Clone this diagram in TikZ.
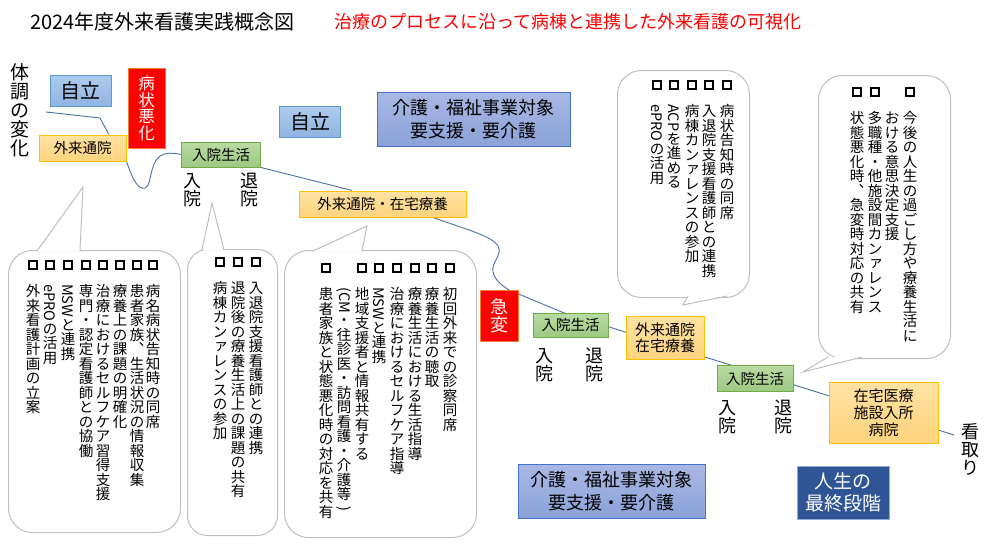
\documentclass[tikz,border=0pt]{standalone}
\usepackage{fontspec}
\setmainfont{Noto Sans CJK JP}
\usetikzlibrary{calc,backgrounds}
\definecolor{lineblue}{HTML}{4A6FAE}
\definecolor{callgray}{HTML}{BFBFBF}
\definecolor{skyA}{HTML}{AECBEE}
\definecolor{skyB}{HTML}{8FB3E0}
\definecolor{skyline}{HTML}{5B9BD5}
\definecolor{navyA}{HTML}{A9B8E4}
\definecolor{navyB}{HTML}{8AA2D8}
\definecolor{navyline}{HTML}{4472C4}
\definecolor{orgA}{HTML}{FFE2A3}
\definecolor{orgB}{HTML}{FFD37D}
\definecolor{orgline}{HTML}{FFC000}
\definecolor{grnA}{HTML}{B8DBA2}
\definecolor{grnB}{HTML}{9CC983}
\definecolor{grnline}{HTML}{70AD47}
\definecolor{alertline}{HTML}{ED7D31}
\definecolor{lastfill}{HTML}{2F5597}
\definecolor{lastline}{HTML}{8FAADC}
\newcommand{\bx}{{\setlength{\fboxsep}{0pt}\setlength{\fboxrule}{2pt}\fbox{\rule{0pt}{6pt}\rule{6pt}{0pt}}}}
\newcommand{\sw}[1]{\setbox0\hbox{\rotatebox{-90}{#1}}\dimen0=\dimexpr\ht0+\dp0\relax\ifdim\dimen0<1em\raise\dimexpr\dp0-\dimen0/2+.38em\relax\box0\else\raise\dimexpr\dp0-.12em\relax\box0\fi}
\newcommand{\sk}[1]{\raisebox{.12em}{\kern.15em#1}}
\makeatletter
\newcommand{\tatecell}[1]{\hbox to 1em{\hss\vrule height .88em depth .12em width 0pt#1\hss}}
\newcommand{\tate}[1]{\vbox{\offinterlineskip\@tfor\tate@c:=#1\do{\tatecell{\tate@c}}}}
\newcommand{\tcol}[2][\bx]{\vbox{\offinterlineskip\hbox to 1em{\hss#1\hss}\kern14pt\@tfor\tate@c:=#2\do{\tatecell{\tate@c}}}}
\makeatother
\tikzset{
  >=stealth,
  box/.style={draw, line width=1pt, inner sep=0pt, align=center},
  selfbox/.style={box, draw=skyline, top color=skyA, bottom color=skyB, font=\fontsize{20}{24}\selectfont, minimum width=61pt, minimum height=31pt},
  carebox/.style={box, draw=navyline, top color=navyA, bottom color=navyB, font=\fontsize{18}{23.5}\selectfont, minimum height=54pt},
  outbox/.style={box, draw=orgline, top color=orgA, bottom color=orgB, font=\fontsize{14.5}{16.5}\selectfont},
  wardbox/.style={box, draw=grnline, top color=grnA, bottom color=grnB, font=\fontsize{14.5}{17}\selectfont, minimum width=77pt, minimum height=25pt},
  alertbox/.style={box, draw=alertline, fill=red, text=white},
  tatelabel/.style={anchor=north, inner sep=0pt, font=\fontsize{18}{18}\selectfont},
  memo/.style={anchor=north, inner sep=0pt, font=\fontsize{14.5}{17}\selectfont},
  bubble/.style={draw=callgray, line width=1pt, rounded corners=24pt, anchor=north west, inner sep=0pt},
  tail/.style={draw=callgray, line width=1pt, fill=white},
  flow/.style={draw=lineblue, line width=0.9pt},
}

\begin{document}
\begin{tikzpicture}[x=1pt,y=-1pt]
    \useasboundingbox (0,0) rectangle (1007,547);
    \node[anchor=west, inner sep=0pt, font=\fontsize{20}{24}\selectfont] (title) at (30,22) {2024年度外来看護実践概念図};
    \node[anchor=west, inner sep=0pt, text=red, font=\fontsize{18}{22}\selectfont] (subtitle) at (334,22) {治療のプロセスに沿って病棟と連携した外来看護の可視化};

    \node[tatelabel, font=\fontsize{19}{19}\selectfont] (taicho) at (20,63) {\tate{体調の変化}};
    \node[selfbox] (selfA) at (80.5,91) {自立};
    \node[alertbox, minimum width=37pt, minimum height=80pt, font=\fontsize{16.5}{16.5}\selectfont] (akka) at (146.5,108) {\tate{病状悪化}};
    \node[outbox, minimum width=87pt, minimum height=26pt] (outA) at (82.5,148) {外来通院};
    \node[wardbox, minimum width=79pt] (wardA) at (221,154.5) {入院生活};
    \node[tatelabel] (inA) at (192,171) {\tate{入院}};
    \node[tatelabel] (exA) at (249,171) {\tate{退院}};
    \node[selfbox] (selfB) at (310,122) {自立};
    \node[carebox, minimum width=193pt] (careA) at (473.5,119) {介護・福祉事業対象\\要支援・要介護};
    \node[outbox, minimum width=167pt, minimum height=26pt] (outB) at (382.5,204) {外来通院・在宅療養};

    \node[alertbox, minimum width=38pt, minimum height=51pt, font=\fontsize{18}{18}\selectfont] (kyuhen) at (499,315.5) {\tate{急変}};
    \node[wardbox, minimum width=75pt, minimum height=24pt] (wardB) at (570.5,325) {入院生活};
    \node[tatelabel] (inB) at (544,346) {\tate{入院}};
    \node[tatelabel] (exB) at (594,346) {\tate{退院}};
    \node[outbox, minimum width=78pt, minimum height=43pt, font=\fontsize{15}{16}\selectfont] (outC) at (665,337.5) {外来通院\\在宅療養};
    \node[wardbox, minimum width=76pt, minimum height=26pt] (wardC) at (755,378.5) {入院生活};
    \node[tatelabel] (inC) at (727,398) {\tate{入院}};
    \node[tatelabel] (exC) at (783,398) {\tate{退院}};
    \node[outbox, minimum width=109pt, minimum height=61pt, font=\fontsize{15}{17}\selectfont] (home) at (883.5,412.5) {在宅医療\\施設入所\\病院};
    \node[tatelabel] (mitori) at (970,422) {\tate{看取り}};
    \node[carebox, minimum width=187pt] (careB) at (611.5,491) {介護・福祉事業対象\\要支援・要介護};
    \node[box, draw=lastline, fill=lastfill, text=white, minimum width=92pt, minimum height=53pt, font=\fontsize{19}{22}\selectfont] (last) at (843,492.5) {人生の\\最終段階};

    \coordinate (onset) at (46,112);
    \coordinate (bend) at (100,118);
    \coordinate (k1) at (509,290);
    \coordinate (fin) at (954,435);
    \begin{pgfonlayer}{background}
    \fill[white] (0,0) rectangle (1007,547);
    \draw[flow] (onset) -- (bend) -- ($(outA.north west)!0.8!(outA.north east)$);
    \draw[flow] (outA.south east) .. controls (133,180) and (138,190) .. (145,188) .. controls (152,186) and (149,164) .. (160,156) .. controls (166,152) and (174,153) .. (wardA.west);
    \draw[flow] (wardA.south east) -- ($(outB.north west)!0.32!(outB.north east)$);
    \draw[flow] ($(outB.south west)!0.8!(outB.south east)$) .. controls (468,230) and (492,236) .. (498,246) .. controls (503,255) and (491,262) .. (493,272) .. controls (495,281) and (503,286) .. (k1);
    \draw[flow] (k1) -- ($(wardB.north west)!0.4!(wardB.north east)$) -- (fin);
    \end{pgfonlayer}

    \node[bubble, minimum width=172pt, minimum height=282pt] (bubA) at (8,250) {};
    \coordinate (tipA) at (83,187);
    \path[tail] (37,251) -- (tipA) -- (80,251);
    \node[memo] (a1) at (153,260) {\tcol{病名病状告知時の同席}};
    \node[memo] (a2) at (137,260) {\tcol{患者家族︑生活状況の情報収集}};
    \node[memo] (a3) at (120,260) {\tcol{療養上の課題の明確化}};
    \node[memo] (a4) at (103,260) {\tcol{治療におけるセルフケア習得支援}};
    \node[memo] (a5) at (86,260) {\tcol{専門・認定看護師との協働}};
    \node[memo] (a6) at (68,260) {\tcol{{\sw{MSW}}と連携}};
    \node[memo] (a7) at (50,260) {\tcol{{\sw{ePRO}}の活用}};
    \node[memo] (a8) at (33,260) {\tcol{外来看護計画の立案}};

    \node[bubble, rounded corners=20pt, minimum width=90pt, minimum height=286pt] (bubB) at (187,249) {};
    \coordinate (tipB) at (212,203);
    \path[tail] (202,250) -- (tipB) -- (224,250);
    \node[memo] (b1) at (256,257) {\tcol{入退院支援看護師との連携}};
    \node[memo] (b2) at (238,257) {\tcol{退院後の療養生活上の課題の共有}};
    \node[memo] (b3) at (220,257) {\tcol{病棟カン{\sk{ァ}}レンスの参加}};

    \node[bubble, minimum width=192pt, minimum height=287pt] (bubC) at (284,250) {};
    \coordinate (tipC) at (367,226);
    \path[tail] (313,251) -- (tipC) -- (362,251);
    \node[memo] (c1) at (450,263) {\tcol{初回外来での診察同席}};
    \node[memo] (c2) at (432,263) {\tcol{療養生活の聴取}};
    \node[memo] (c3) at (415,263) {\tcol{療養生活における生活指導}};
    \node[memo] (c4) at (397,263) {\tcol{治療におけるセルフケア指導}};
    \node[memo] (c5) at (379,263) {\tcol{{\sw{MSW}}と連携}};
    \node[memo] (c6) at (362,263) {\tcol{地域支援者と情報共有する}};
    \node[memo] (c7) at (344,263) {\tcol[\phantom{\bx}]{{\sw{(CM}}・往診医・訪問看護・介護等{\sw{)}}}};
    \node[memo] (c8) at (326,263) {\tcol{患者家族と状態悪化時の対応を共有}};

    \node[bubble, minimum width=132pt, minimum height=227pt] (bubD) at (617,70) {};
    \coordinate (tipD) at (683,305);
    \path[tail] (688,296) -- (tipD) -- (727,296);
    \node[memo] (d1) at (727,80) {\tcol{病状告知時の同席}};
    \node[memo] (d2) at (709,80) {\tcol{入退院支援看護師との連携}};
    \node[memo] (d3) at (692,80) {\tcol{病棟カン{\sk{ァ}}レンスの参加}};
    \node[memo] (d4) at (674,80) {\tcol{{\sw{ACP}}を進める}};
    \node[memo] (d5) at (657,80) {\tcol{{\sw{ePRO}}の活用}};

    \node[bubble, minimum width=132pt, minimum height=283pt] (bubE) at (818,75) {};
    \coordinate (tipE) at (803,372);
    \path[tail] (828,357) -- (tipE) -- (862,357);
    \node[memo] (e1) at (910,87) {\tcol{今後の人生の過ごし方や療養生活に}};
    \node[memo] (e2) at (892,87) {\tcol[\phantom{\bx}]{おける意思決定支援}};
    \node[memo] (e3) at (875,87) {\tcol{多職種・他施設間カン{\sk{ァ}}レンス}};
    \node[memo] (e4) at (857,87) {\tcol{状態悪化時︑急変時対応の共有}};
\end{tikzpicture}
\end{document}
